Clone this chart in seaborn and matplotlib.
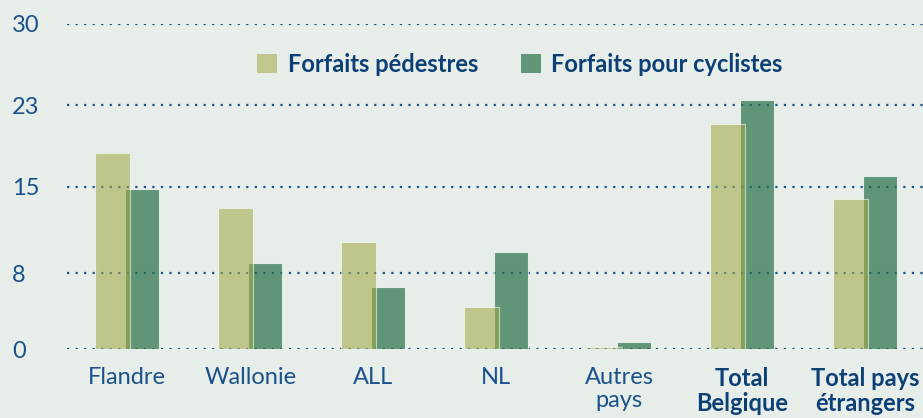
import matplotlib
matplotlib.use("Agg")
import matplotlib.pyplot as plt
import seaborn as sns
import pandas as pd
from matplotlib.patches import Patch

# --- Data ---
regions = ['Flandre', 'Wallonie', 'ALL', 'NL', 'Autres\npays', 'Total\nBelgique', 'Total pays\nétrangers']
pedestres = [18.1, 13.0, 9.9, 3.9, 0.2, 20.8, 13.9]
cyclistes = [14.8, 8.0, 5.7, 9.0, 0.7, 23.0, 16.0]
series_names = ['Forfaits pédestres', 'Forfaits pour cyclistes']
ytick_vals = [0, 7, 15, 22.5, 30]
ytick_labels = ['0', '8', '15', '23', '30']

df = pd.DataFrame({
    'region': regions * 2,
    'value': pedestres + cyclistes,
    'type': [series_names[0]] * len(regions) + [series_names[1]] * len(regions),
})

# --- Style ---
bg = '#e7eeea'
navy = '#0c3f74'
tick_col = '#1b518a'
ped_face = '#a0a843'   # drawn with alpha -> appears #c0c68c
cyc_face = '#277147'   # drawn with alpha -> appears #619679

sns.set_theme(style="white")
plt.rcParams['font.family'] = ['Lato', 'DejaVu Sans']

fig = plt.figure(figsize=(9.23, 4.18), dpi=100, facecolor=bg)
ax = fig.add_axes([0.0726, 0.1644, 0.9274, 0.7782])
ax.set_facecolor(bg)

sns.barplot(data=df, x='region', y='value', hue='type', palette=[ped_face, cyc_face],
            width=0.48, ax=ax, legend=False, saturation=1)

# widen bars so the two series overlap slightly
for cont, alpha, z in zip(ax.containers, [0.56, 0.7], [3, 2]):
    for p in cont:
        p.set_x(p.get_x() - 0.021)
        p.set_width(0.282)
        p.set_alpha(alpha)
        p.set_zorder(z)
        p.set_edgecolor((1, 1, 1, 0.25))
        p.set_linewidth(0.8)

# dotted grid
ax.set_ylim(0, 30)
ax.set_xlim(-0.49, 6.47)
ax.set_yticks(ytick_vals)
ax.set_yticklabels(ytick_labels)
ax.yaxis.grid(True, color=tick_col, linestyle=(0, (1, 2.84)), linewidth=1.6)
ax.set_axisbelow(True)
for s in ax.spines.values():
    s.set_visible(False)

ax.set_xlabel('')
ax.set_ylabel('')
ax.tick_params(axis='y', length=0, pad=39.6, labelsize=17, labelcolor=tick_col)
ax.tick_params(axis='x', length=0, pad=13, labelsize=17, labelcolor=tick_col)
for lab in ax.get_yticklabels():
    lab.set_horizontalalignment('left')
for i, lab in enumerate(ax.get_xticklabels()):
    lab.set_linespacing(1.1)
    lab.set_verticalalignment('top')
    if i >= 5:
        lab.set_fontweight('bold')
        lab.set_color(navy)

handles = [Patch(facecolor='#c0c68c', edgecolor='none'),
           Patch(facecolor='#619679', edgecolor='none')]
ax.legend(handles, series_names, ncol=2, loc='center', bbox_to_anchor=(0.529, 0.876),
          frameon=False, prop={'weight': 'bold', 'size': 17}, labelcolor=navy,
          handlelength=0.85, handleheight=0.85, handletextpad=0.45, columnspacing=1.8)

fig.savefig('out.png', dpi=100, facecolor=bg)
